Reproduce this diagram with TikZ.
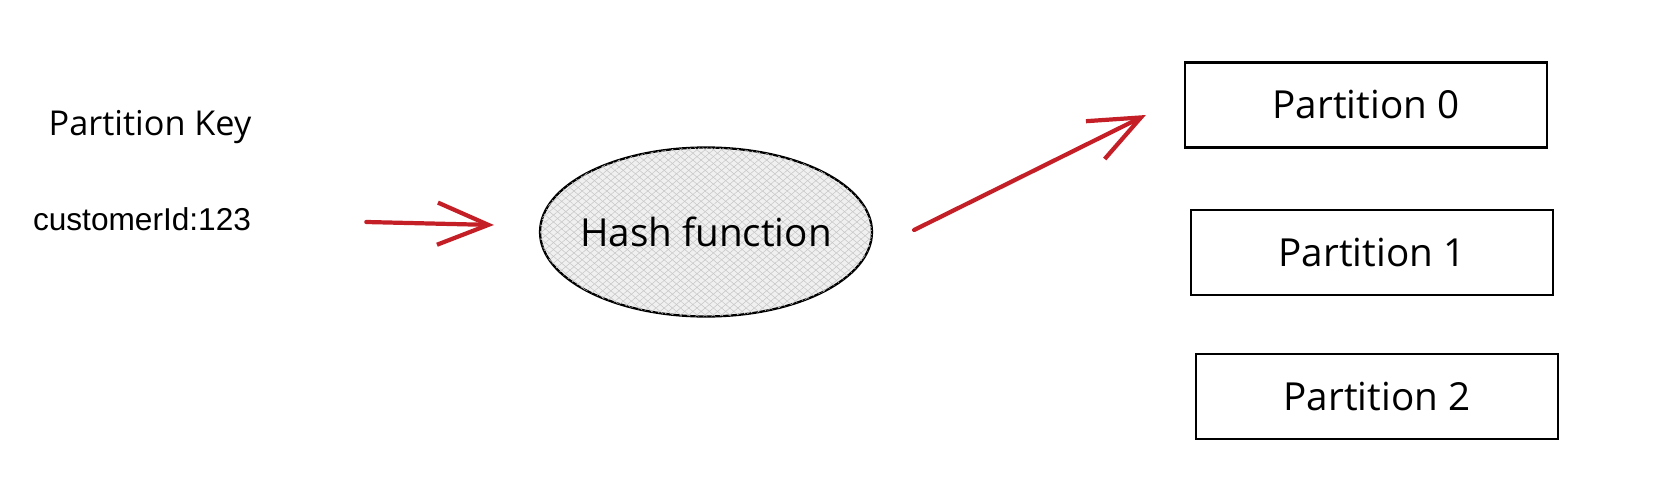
\documentclass[tikz,border=0pt]{standalone}
\usepackage{fontspec}
\setmainfont{Liberation Sans}
\newfontfamily\handfont{Open Sans}
\usetikzlibrary{arrows.meta,positioning,shapes.geometric,patterns.meta}
\definecolor{arrowred}{RGB}{196,30,38}

\begin{document}
\begin{tikzpicture}[
  x=0.02cm, y=-0.02cm, node distance=1.2cm,
  hand/.style={font=\handfont\fontsize{22}{26}\selectfont, inner sep=0pt},
  partbox/.style={draw, line width=1.3pt, hand, minimum width=7.24cm,
                  minimum height=1.7cm},
  hashnode/.style={ellipse, draw, line width=1.3pt, hand, inner xsep=-0.6cm,
                   minimum width=6.64cm, minimum height=3.38cm, fill=gray!12,
                   postaction={pattern={Lines[angle=40,distance=3pt,line width=0.3pt]},
                               pattern color=gray!45},
                   postaction={pattern={Lines[angle=-40,distance=3pt,line width=0.3pt]},
                               pattern color=gray!45}},
  flow/.style={draw=arrowred, line width=2.4pt, line cap=round,
               -{Straight Barb[length=29pt, width=24pt, line width=2.4pt]}}
]
\useasboundingbox (0,0) rectangle (1660,480);

\node[hand, font=\handfont\fontsize{19.5}{23}\selectfont] (key) at (150,127) {Partition Key};
\node[font=\fontsize{18}{22}\selectfont, inner sep=0pt] (cust) at (142,219) {customerId:123};
\node[hashnode] (hash) at (706,232) {Hash function};
\node[partbox] (part0) at (1366,105) {Partition 0};
\node[partbox, below=of part0, xshift=0.12cm] (part1) {Partition 1};
\node[partbox, below=1.14cm of part1, xshift=0.1cm] (part2) {Partition 2};

\draw[flow] ([xshift=2.3cm,yshift=-0.06cm]cust.east) -- ([xshift=-0.9cm,yshift=0.14cm]hash.west);
\draw[flow] ([xshift=0.82cm,yshift=0.04cm]hash.east) -- ([xshift=-0.76cm,yshift=-0.2cm]part0.west);
\end{tikzpicture}
\end{document}
